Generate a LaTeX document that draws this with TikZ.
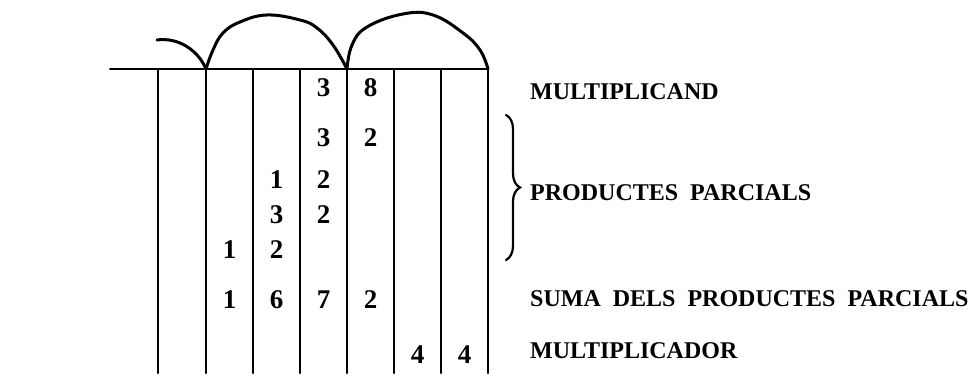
\documentclass[tikz,border=0pt]{standalone}
\usepackage{fontspec}
\setmainfont{Liberation Serif}
\newfontfamily\rowfont[WordSpace=2]{Liberation Serif}
\usetikzlibrary{calc,decorations.pathreplacing}

\begin{document}
\begin{tikzpicture}[x=1pt,y=-1pt,line cap=round,
    rod/.style={line width=2.4pt},
    bow/.style={line width=3pt,line join=round},
    digit/.style={inner sep=0pt,font=\fontsize{27}{27}\selectfont\bfseries},
    rowtext/.style={anchor=west,inner sep=0pt,font=\rowfont\fontsize{24}{24}\selectfont\bfseries}]
    \useasboundingbox (0,0) rectangle (977,387);
    \coordinate (lft) at (110,69);
    \foreach \i/\x in {1/158,2/206,3/253,4/300,5/347,6/394,7/441,8/488}{
        \coordinate (t\i) at (\x,69);
        \coordinate (b\i) at (\x,373);
    }
    \draw[line width=2pt] (lft) -- (t8);
    \foreach \i in {1,...,8} \draw[rod] (t\i) -- (b\i);
    \coordinate (hook) at (157,40);
    \draw[bow] (hook) .. controls (178,37) and (198,50) .. (t2);
    \draw[bow] plot[smooth,tension=0.7] coordinates {(t2) (213,50) (223,33) (240,22) (267,15) (300,20) (317,28) (333,45) (t5)};
    \draw[bow] plot[smooth,tension=0.7] coordinates {(t5) (352,45) (367,27) (403,14) (433,15) (463,33) (480,50) (t8)};
    \foreach \n/\c/\y/\d in {a4/323.5/88/3,a5/370.5/88/8,
        p4/323.5/138/3,p5/370.5/138/2,
        q3/276.5/180/1,q4/323.5/180/2,
        r3/276.5/215/3,r4/323.5/215/2,
        s2/229.5/250/1,s3/276.5/250/2,
        u2/229.5/300/1,u3/276.5/300/6,u4/323.5/300/7,u5/370.5/300/2,
        m6/417.5/355/4,m7/464.5/355/4}
        \node[digit] (\n) at (\c,\y) {\d};
    \coordinate (bt) at (506,115);
    \coordinate (bb) at (506,260);
    \draw[line width=2.2pt,decorate,decoration={brace,amplitude=14pt}] (bt) -- (bb);
    \node[rowtext] (mcand) at (530,92) {MULTIPLICAND};
    \node[rowtext] (parc) at (530,193) {PRODUCTES PARCIALS};
    \node[rowtext] (suma) at (530,299) {SUMA DELS PRODUCTES PARCIALS};
    \node[rowtext] (mcador) at (530,351) {MULTIPLICADOR};
\end{tikzpicture}
\end{document}
